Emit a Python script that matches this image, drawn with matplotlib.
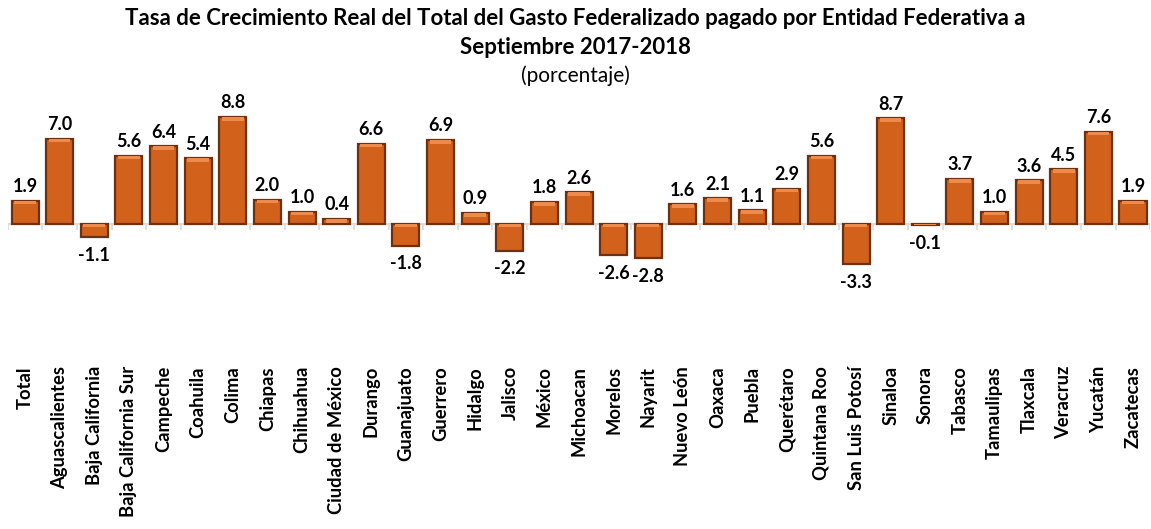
import matplotlib.pyplot as plt

# datos
entidades = ["Total", "Aguascalientes", "Baja California", "Baja California Sur",
             "Campeche", "Coahuila", "Colima", "Chiapas", "Chihuahua",
             "Ciudad de México", "Durango", "Guanajuato", "Guerrero", "Hidalgo",
             "Jalisco", "México", "Michoacan", "Morelos", "Nayarit", "Nuevo León",
             "Oaxaca", "Puebla", "Querétaro", "Quintana Roo", "San Luis Potosí",
             "Sinaloa", "Sonora", "Tabasco", "Tamaulipas", "Tlaxcala", "Veracruz",
             "Yucatán", "Zacatecas"]
tasas = [1.9, 7.0, -1.1, 5.6, 6.4, 5.4, 8.8, 2.0, 1.0, 0.4, 6.6, -1.8, 6.9, 0.9,
         -2.2, 1.8, 2.6, -2.6, -2.8, 1.6, 2.1, 1.1, 2.9, 5.6, -3.3, 8.7, -0.1,
         3.7, 1.0, 3.6, 4.5, 7.6, 1.9]

plt.rcParams['font.family'] = ['Lato', 'DejaVu Sans']

fig = plt.figure(figsize=(11.51, 5.29), dpi=100)
ax = fig.add_axes([0.0067, 0.329, 0.9927, 0.482])

x = list(range(len(tasas)))
ancho = 0.78
ax.bar(x, tasas, width=ancho, color='#D2611B', edgecolor='#6E300D', linewidth=1.6, zorder=2)

# franja de brillo en la parte superior de cada barra
franja = [min(0.3, abs(v)) for v in tasas]
inicio = [max(v, 0) - f for v, f in zip(tasas, franja)]
ax.bar(x, franja, bottom=inicio, width=ancho * 0.8, color='#EE8A4C', linewidth=0, zorder=3)

ax.axhline(0, color='#D9D9D9', linewidth=1.2, zorder=1)
ax.vlines([i - 0.5 for i in range(len(tasas) + 1)], -0.5, 0.1, color='#D9D9D9',
          linewidth=1.2, zorder=1)

for xi, v in zip(x, tasas):
    if v >= 0:
        ax.annotate(f"{v:.1f}", (xi, v), xytext=(0, 4), textcoords='offset points',
                    ha='center', va='bottom', fontsize=13, fontweight='bold')
    else:
        ax.annotate(f"{v:.1f}", (xi, v), xytext=(0, -7), textcoords='offset points',
                    ha='center', va='top', fontsize=13, fontweight='bold')

ax.set_xlim(-0.5, len(tasas) - 0.5)
ax.set_ylim(-10.8, 10.2)
ax.set_xticks(x)
ax.set_xticklabels(entidades, rotation=90, fontsize=13.2, fontweight='bold')
ax.tick_params(axis='x', length=0, pad=8)
ax.set_yticks([])
for s in ax.spines.values():
    s.set_visible(False)

fig.text(0.5, 0.965, "Tasa de Crecimiento Real del Total del Gasto Federalizado pagado por Entidad Federativa a",
         ha='center', va='center', fontsize=16, fontweight='bold')
fig.text(0.5, 0.911, "Septiembre 2017-2018", ha='center', va='center', fontsize=16, fontweight='bold')
fig.text(0.5, 0.857, "(porcentaje)", ha='center', va='center', fontsize=15)

fig.savefig("out.png", dpi=100)
